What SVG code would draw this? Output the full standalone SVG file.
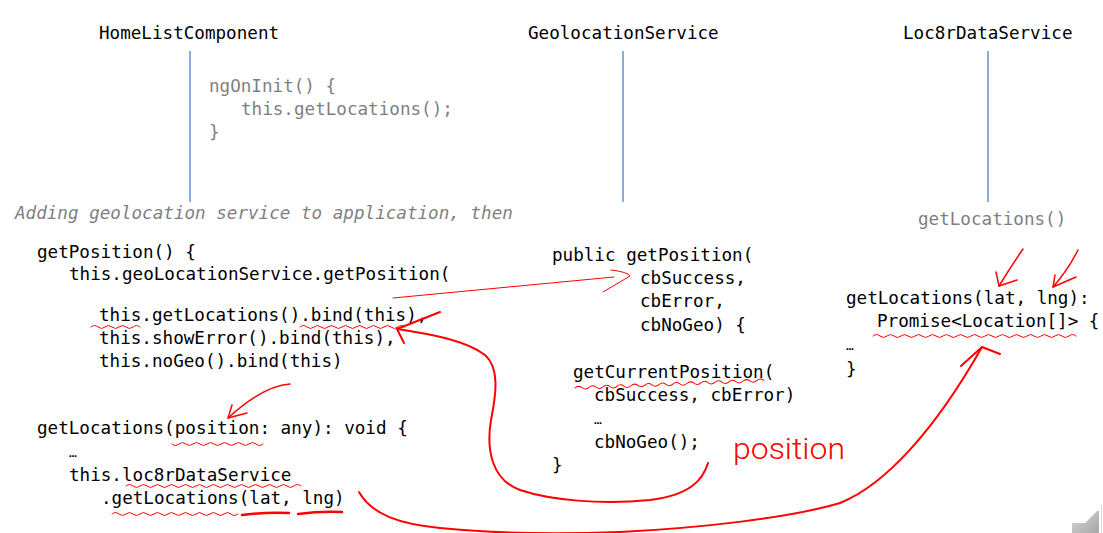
<svg xmlns="http://www.w3.org/2000/svg" width="1103" height="533" viewBox="0 0 1103 533">
<defs>
<style>
.c{font-family:"DejaVu Sans Mono","Liberation Mono",monospace;font-size:17.6px;fill:#000}
.g{fill:#7f7f7f}
.i{font-style:italic}
.e{font-size:13px}
.life{stroke:#4472c4;stroke-width:1.2;fill:none}
.r{stroke:#f00;fill:none;stroke-linecap:round;stroke-linejoin:round}
.w{stroke-width:1}
.m{stroke-width:1.5}
.t{stroke-width:2}
.hand{font-family:Roboto,"Liberation Sans",sans-serif;font-weight:300;font-size:30px;fill:#f00}
</style>
<linearGradient id="nav" x1="0" y1="0" x2="1" y2="1">
<stop offset="0" stop-color="#d8d8d8"/>
<stop offset="1" stop-color="#a6a6a6"/>
</linearGradient>
</defs>
<rect width="1103" height="533" fill="#fff"/>

<g id="homeListComponent">
<text class="c" x="99" y="39">HomeListComponent</text>
<line class="life" x1="190" y1="51" x2="190" y2="202"/>
<text class="c g" x="209" y="92">ngOnInit() {</text>
<text class="c g" x="241" y="115">this.getLocations();</text>
<text class="c g" x="209" y="138">}</text>
</g>

<g id="geolocationService">
<text class="c" x="528" y="39">GeolocationService</text>
<line class="life" x1="623" y1="51" x2="623" y2="202"/>
</g>

<g id="loc8rDataService">
<text class="c" x="903" y="39">Loc8rDataService</text>
<line class="life" x1="988" y1="51" x2="988" y2="202"/>
<text class="c g" x="918" y="225">getLocations()</text>
</g>

<g id="caption">
<text class="c g i" x="15" y="219">Adding geolocation service to application, then</text>
</g>

<g id="homeListCode">
<text class="c" x="37" y="258">getPosition() {</text>
<text class="c" x="69" y="280">this.geoLocationService.getPosition(</text>
<text class="c" x="99" y="321">this.getLocations().bind(this),</text>
<text class="c" x="99" y="344">this.showError().bind(this),</text>
<text class="c" x="99" y="367">this.noGeo().bind(this)</text>
<text class="c" x="37" y="434">getLocations(position: any): void {</text>
<text class="c e" x="69" y="457">…</text>
<text class="c" x="69" y="481">this.loc8rDataService</text>
<text class="c" x="101" y="504">.getLocations(lat, lng)</text>
</g>

<g id="geolocationCode">
<text class="c" x="552" y="261">public getPosition(</text>
<text class="c" x="640" y="284">cbSuccess,</text>
<text class="c" x="640" y="307">cbError,</text>
<text class="c" x="640" y="331">cbNoGeo) {</text>
<text class="c" x="573" y="378">getCurrentPosition(</text>
<text class="c" x="594" y="401">cbSuccess, cbError)</text>
<text class="c e" x="594" y="424">…</text>
<text class="c" x="594" y="448">cbNoGeo();</text>
<text class="c" x="552" y="471">}</text>
</g>

<g id="loc8rDataCode">
<text class="c" x="846" y="304">getLocations(lat, lng):</text>
<text class="c" x="877" y="327">Promise&lt;Location[]&gt; {</text>
<text class="c e" x="846" y="350">…</text>
<text class="c" x="846" y="375">}</text>
</g>

<g id="connectors">
<path class="r w" d="M91,327 q3.5,-3 7,0 t7,0 t7,0 t7,0 t7,0 t7,0 t7,0"/>
<path class="r w" d="M300,327 q3.5,-3 7,0 t7,0 t7,0 t7,0 t7,0 t7,0 t7,0 t7,0 t7,0 t7,0 t7,0 t7,0 t7,0 t7,0 t7,0"/>
<path class="r w" d="M172,444 q3.5,3 7,0 t7,0 t7,0 t7,0 t7,0 t7,0 t7,0 t7,0 t7,0 t7,0 t7,0 t7,0 t7,0"/>
<path class="r w" d="M126,486 q3.5,-3 7,0 t7,0 t7,0 t7,0 t7,0 t7,0 t7,0 t7,0 t7,0 t7,0 t7,0 t7,0 t7,0 t7,0 t7,0 t7,0 t7,0 t7,0 t7,0 t7,0 t7,0 t7,0 t7,0 t7,0 t7,0"/>
<path class="r w" d="M112,514 q3.5,-3 7,0 t7,0 t7,0 t7,0 t7,0 t7,0 t7,0 t7,0 t7,0 t7,0 t7,0 t7,0 t7,0 t7,0 t7,0 t7,0 t7,0 t7,0"/>
<path class="r" stroke-width="2.5" d="M242,515 Q265,512 289,513"/>
<path class="r" stroke-width="2.5" d="M298,514 Q320,511 342,512"/>
<path class="r w" transform="rotate(-2.3 575 388)" d="M575,388 q3.5,-3 7,0 t7,0 t7,0 t7,0 t7,0 t7,0 t7,0 t7,0 t7,0 t7,0 t7,0 t7,0 t7,0 t7,0 t7,0 t7,0 t7,0 t7,0 t7,0 t7,0 t7,0 t7,0 t7,0 t7,0 t7,0 t7,0 t7,0"/>
<path class="r w" d="M873,336 q3.5,-3 7,0 t7,0 t7,0 t7,0 t7,0 t7,0 t7,0 t7,0 t7,0 t7,0 t7,0 t7,0 t7,0 t7,0 t7,0 t7,0 t7,0 t7,0 t7,0 t7,0 t7,0 t7,0 t7,0 t7,0 t7,0 t7,0 t7,0 t7,0 t7,0"/>

<path class="r w" d="M393,298 L614,277"/>
<path class="r w" d="M611,270 Q628,272 630,276 L603,292"/>

<path class="r m" d="M290,384 C272,385 250,398 228,418"/>
<path class="r m" d="M232,405 L228,418 L247,413"/>

<path class="r t" d="M708,463 C703,480 690,495 650,500 C600,505 550,500 520,490 C492,480 486,450 491,420 C496,395 500,368 485,355 C465,340 430,334 397,329"/>
<path class="r t" d="M440,312 L397,329 L404,343"/>

<path class="r t" d="M359,492 C372,515 400,524 440,528 Q520,536 620,532 C700,528 790,518 840,503 C885,485 935,430 982,347"/>
<path class="r t" d="M961,366 L982,347 L1000,354"/>

<path class="r m" d="M1023,249 Q1010,268 999,286"/>
<path class="r m" d="M996,272 L999,286 L1017,280"/>
<path class="r m" d="M1078,250 Q1068,270 1053,287"/>
<path class="r m" d="M1055,275 L1053,287 L1076,277"/>
</g>

<g id="handwritten">
<text class="hand" x="733" y="459" textLength="112" lengthAdjust="spacingAndGlyphs">position</text>
</g>

<g id="navigation">
<polygon points="1072,533 1072,523 1085,523 1097,511 1099,511 1099,533" fill="url(#nav)"/>
<line x1="1101.5" y1="505" x2="1101.5" y2="533" stroke="#d9d9d9" stroke-width="1"/>
</g>
</svg>
